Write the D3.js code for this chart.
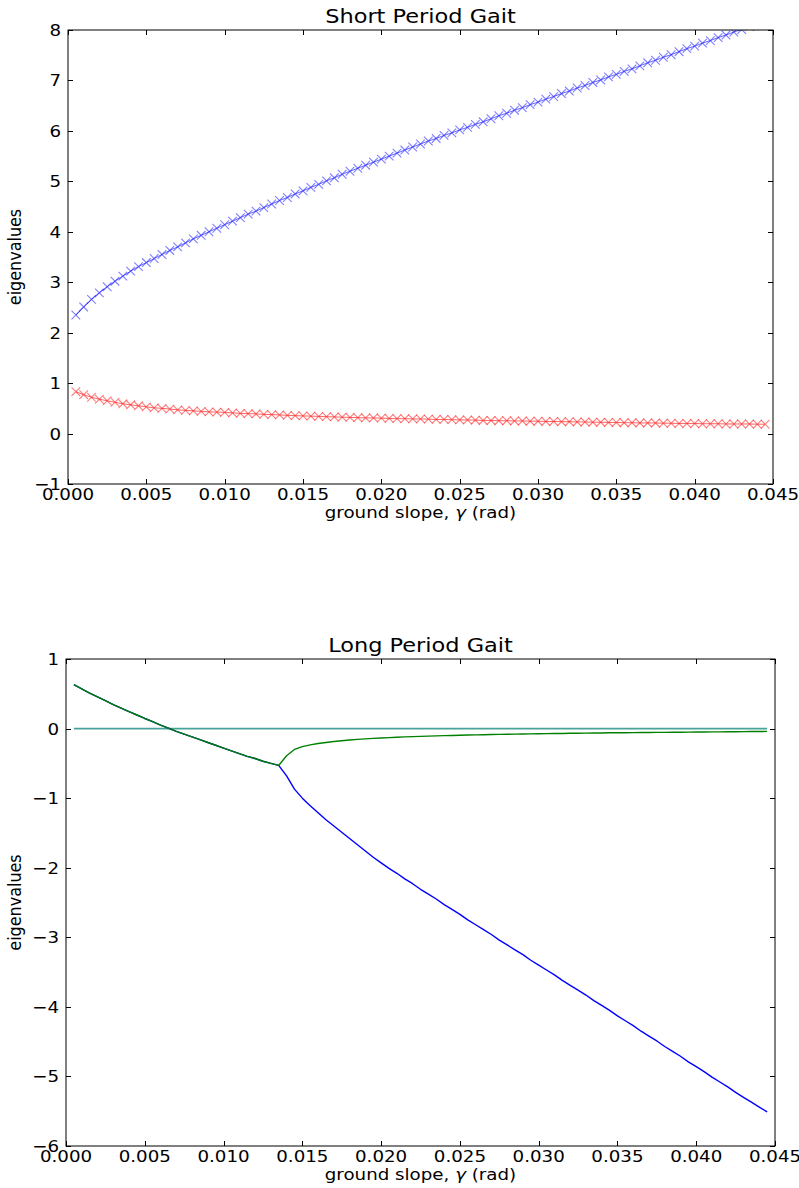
<!DOCTYPE html>
<html>
<head>
<meta charset="utf-8">
<script src="https://cdn.jsdelivr.net/npm/d3@7"></script>
<style>
body { margin: 0; background: #fff; }
text { font-family: "DejaVu Sans", sans-serif; fill: #000; }
</style>
</head>
<body>
<div id="chart"></div>
<script>
width = 799
height = 1188

// ground slope values, shared by every series
const gamma = [
	0.0005,0.001,0.0015,0.002,0.0025,0.003,0.0035,0.004,0.0045,0.005,
	0.0055,0.006,0.0065,0.007,0.0075,0.008,0.0085,0.009,0.0095,0.01,
	0.0105,0.011,0.0115,0.012,0.0125,0.013,0.0135,0.014,0.0145,0.015,
	0.0155,0.016,0.0165,0.017,0.0175,0.018,0.0185,0.019,0.0195,0.02,
	0.0205,0.021,0.0215,0.022,0.0225,0.023,0.0235,0.024,0.0245,0.025,
	0.0255,0.026,0.0265,0.027,0.0275,0.028,0.0285,0.029,0.0295,0.03,
	0.0305,0.031,0.0315,0.032,0.0325,0.033,0.0335,0.034,0.0345,0.035,
	0.0355,0.036,0.0365,0.037,0.0375,0.038,0.0385,0.039,0.0395,0.04,
	0.0405,0.041,0.0415,0.042,0.0425,0.043,0.0435,0.044,0.0445
]

const shortBlue = [
	2.35,2.51,2.66,2.79,2.91,3.02,3.12,3.22,3.31,3.39,
	3.47,3.55,3.63,3.70,3.78,3.86,3.93,4.00,4.07,4.14,
	4.21,4.28,4.35,4.41,4.48,4.55,4.62,4.68,4.75,4.81,
	4.88,4.94,5.01,5.07,5.14,5.20,5.26,5.32,5.38,5.44,
	5.50,5.56,5.62,5.68,5.74,5.80,5.85,5.91,5.96,6.02,
	6.07,6.13,6.18,6.24,6.30,6.35,6.41,6.46,6.52,6.57,
	6.63,6.68,6.74,6.79,6.85,6.90,6.96,7.01,7.07,7.12,
	7.18,7.23,7.29,7.35,7.40,7.46,7.51,7.57,7.63,7.68,
	7.74,7.79,7.85,7.90,7.96,8.01,8.07,8.12,8.18
]

const shortRed = [
	0.83,0.77,0.72,0.68,0.65,0.62,0.59,0.57,0.55,0.53,
	0.51,0.50,0.485,0.47,0.46,0.45,0.44,0.43,0.425,0.42,
	0.41,0.40,0.395,0.39,0.38,0.375,0.37,0.36,0.355,0.35,
	0.345,0.34,0.335,0.33,0.325,0.32,0.315,0.31,0.31,0.305,
	0.30,0.295,0.295,0.29,0.29,0.285,0.28,0.28,0.275,0.27,
	0.27,0.265,0.26,0.26,0.255,0.255,0.25,0.25,0.245,0.245,
	0.24,0.24,0.235,0.235,0.23,0.23,0.225,0.225,0.22,0.22,
	0.215,0.215,0.21,0.21,0.21,0.205,0.205,0.20,0.20,0.20,
	0.195,0.195,0.195,0.19,0.19,0.19,0.19,0.185,0.185
]

const longBlue = [
	0.63,0.57,0.51,0.455,0.40,0.345,0.295,0.245,0.195,0.145,
	0.10,0.05,0.005,-0.04,-0.08,-0.12,-0.16,-0.20,-0.24,-0.28,
	-0.32,-0.36,-0.40,-0.43,-0.47,-0.50,-0.53,-0.68,-0.87,-1.00,
	-1.11,-1.21,-1.31,-1.40,-1.49,-1.58,-1.67,-1.76,-1.85,-1.93,
	-2.01,-2.08,-2.16,-2.23,-2.31,-2.38,-2.45,-2.53,-2.60,-2.67,
	-2.75,-2.82,-2.89,-2.96,-3.04,-3.11,-3.18,-3.25,-3.33,-3.40,
	-3.47,-3.54,-3.62,-3.69,-3.76,-3.83,-3.91,-3.98,-4.05,-4.13,
	-4.20,-4.27,-4.35,-4.42,-4.49,-4.57,-4.64,-4.71,-4.79,-4.86,
	-4.93,-5.01,-5.08,-5.15,-5.23,-5.30,-5.37,-5.44,-5.51
]

const longGreen = [
	0.63,0.57,0.51,0.455,0.40,0.345,0.295,0.245,0.195,0.145,
	0.10,0.05,0.005,-0.04,-0.08,-0.12,-0.16,-0.20,-0.24,-0.28,
	-0.32,-0.36,-0.40,-0.43,-0.47,-0.50,-0.53,-0.39,-0.30,-0.26,
	-0.235,-0.215,-0.20,-0.185,-0.175,-0.165,-0.155,-0.148,-0.141,-0.135,
	-0.13,-0.125,-0.12,-0.116,-0.112,-0.108,-0.105,-0.102,-0.099,-0.096,
	-0.093,-0.091,-0.088,-0.086,-0.084,-0.082,-0.08,-0.078,-0.076,-0.074,
	-0.073,-0.071,-0.07,-0.068,-0.067,-0.065,-0.064,-0.063,-0.061,-0.06,
	-0.059,-0.058,-0.057,-0.056,-0.055,-0.054,-0.053,-0.052,-0.051,-0.05,
	-0.049,-0.048,-0.047,-0.046,-0.045,-0.044,-0.043,-0.042,-0.041
]

const longZero = [
	0,0,0,0,0,0,0,0,0,0, 0,0,0,0,0,0,0,0,0,0,
	0,0,0,0,0,0,0,0,0,0, 0,0,0,0,0,0,0,0,0,0,
	0,0,0,0,0,0,0,0,0,0, 0,0,0,0,0,0,0,0,0,0,
	0,0,0,0,0,0,0,0,0,0, 0,0,0,0,0,0,0,0,0,0,
	0,0,0,0,0,0,0,0,0
]

const xTicks = [0, 0.005, 0.01, 0.015, 0.02, 0.025, 0.03, 0.035, 0.04, 0.045]
const shortYTicks = [-1, 0, 1, 2, 3, 4, 5, 6, 7, 8]
const longYTicks = [-6, -5, -4, -3, -2, -1, 0, 1]

const stretch = 1.14
const tickLen = 5

let svg = d3.select("#chart")
.append("svg")
.attr("width", width)
.attr("height", height)
.style("background", "#fff")

function addText(g, x, y, str, size, anchor, rotated) {
	let t = g.append("g")
		.attr("transform", "translate(" + x + "," + y + ") scale(" + stretch + ",1)" + (rotated ? " rotate(-90)" : ""))
		.append("text")
		.attr("font-size", size)
		.attr("text-anchor", anchor)
	if (typeof str == "string") t.text(str)
	return t
}

function fmtY(v) {
	return v < 0 ? "\u2212" + Math.abs(v) : String(v)
}

function drawPanel(p) {
	let g = svg.append("g")
	let x = d3.scaleLinear().domain([0, 0.045]).range([p.left, p.right])
	let y = d3.scaleLinear().domain(p.yDomain).range([p.bottom, p.top])

	let clipId = "clip-" + p.name
	svg.append("clipPath").attr("id", clipId)
		.append("rect")
		.attr("x", p.left).attr("y", p.top)
		.attr("width", p.right - p.left).attr("height", p.bottom - p.top)

	let plot = g.append("g").attr("clip-path", "url(#" + clipId + ")")

	p.series.forEach(s => {
		let line = d3.line().x((d, i) => x(gamma[i])).y(d => y(d))
		plot.append("path")
			.datum(s.values)
			.attr("d", line)
			.attr("fill", "none")
			.attr("stroke", s.color)
			.attr("stroke-width", s.width)
			.attr("stroke-opacity", s.opacity)
			.attr("stroke-linejoin", "round")
		if (s.marker) {
			plot.append("g")
				.selectAll("path")
				.data(s.values)
				.join("path")
				.attr("d", (d, i) => {
					let cx = x(gamma[i]), cy = y(d), r = 4.3
					return "M" + (cx - r) + "," + (cy - r) + "L" + (cx + r) + "," + (cy + r) +
						"M" + (cx - r) + "," + (cy + r) + "L" + (cx + r) + "," + (cy - r)
				})
				.attr("stroke", s.color)
				.attr("stroke-width", 1.1)
				.attr("stroke-opacity", 0.5)
				.attr("fill", "none")
		}
	})

	// frame and inward ticks on all sides
	g.append("rect")
		.attr("x", p.left).attr("y", p.top)
		.attr("width", p.right - p.left).attr("height", p.bottom - p.top)
		.attr("fill", "none").attr("stroke", "#000").attr("stroke-width", 1)

	xTicks.forEach(t => {
		let px = Math.round(x(t)) + 0.5
		g.append("line").attr("x1", px).attr("x2", px).attr("y1", p.bottom).attr("y2", p.bottom - tickLen).attr("stroke", "#000")
		g.append("line").attr("x1", px).attr("x2", px).attr("y1", p.top).attr("y2", p.top + tickLen).attr("stroke", "#000")
		addText(g, x(t), p.bottom + 16, d3.format(".3f")(t), 16, "middle")
	})

	p.yTicks.forEach(t => {
		let py = Math.round(y(t)) + 0.5
		g.append("line").attr("x1", p.left).attr("x2", p.left + tickLen).attr("y1", py).attr("y2", py).attr("stroke", "#000")
		g.append("line").attr("x1", p.right).attr("x2", p.right - tickLen).attr("y1", py).attr("y2", py).attr("stroke", "#000")
		addText(g, p.left - 7, y(t) + 6, fmtY(t), 16, "end")
	})

	let mid = (p.left + p.right) / 2
	addText(g, mid, p.top - 7, p.title, 19.7, "middle")

	let xl = addText(g, mid, p.bottom + 34, null, 16, "middle")
	xl.append("tspan").text("ground slope, ")
	xl.append("tspan").attr("font-style", "italic").text("\u03b3")
	xl.append("tspan").text(" (rad)")

	addText(g, 21, (p.top + p.bottom) / 2, "eigenvalues", 16, "middle", true)
}

drawPanel({
	name: "short",
	title: "Short Period Gait",
	left: 68, right: 773, top: 30, bottom: 484,
	yDomain: [-1, 8],
	yTicks: shortYTicks,
	series: [
		{ values: shortBlue, color: "#0000ff", width: 1, opacity: 0.6, marker: true },
		{ values: shortRed, color: "#ff0000", width: 1, opacity: 0.6, marker: true }
	]
})

drawPanel({
	name: "long",
	title: "Long Period Gait",
	left: 66, right: 775, top: 659, bottom: 1146,
	yDomain: [-6, 1],
	yTicks: longYTicks,
	series: [
		{ values: longZero, color: "#4aa39a", width: 1.8, opacity: 1 },
		{ values: longBlue, color: "#0000ff", width: 1.4, opacity: 1 },
		{ values: longGreen, color: "#008000", width: 1.4, opacity: 1 }
	]
})
</script>
</body>
</html>
